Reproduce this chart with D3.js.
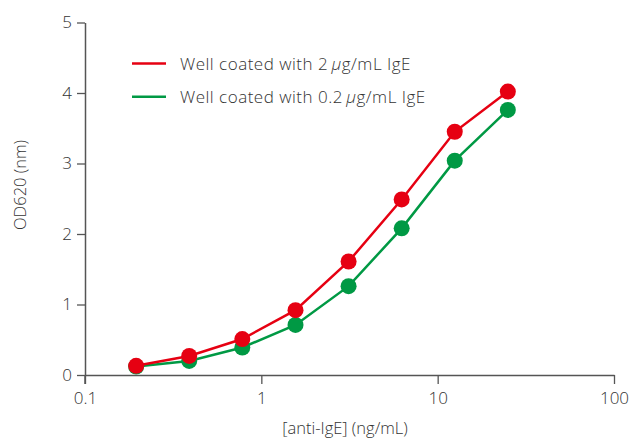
<!DOCTYPE html>
<html><head><meta charset="utf-8">
<script src="https://cdn.jsdelivr.net/npm/d3@7"></script>
<style>
body{margin:0;background:#fff;}
text{font-family:"Open Sans","Noto Sans",sans-serif;font-weight:300;fill:#333;}
</style></head>
<body><svg id="c" width="629" height="439"></svg>
<script>
const concentrations = [0.195, 0.39, 0.78, 1.5625, 3.125, 6.25, 12.5, 25];
const seriesPrefix = ["Well coated with 2\u2009", "Well coated with 0.2\u2009"];
const unitMu = "\u03BC";
const unitRest = "g/mL IgE";
const od2 = [0.13, 0.27, 0.51, 0.92, 1.61, 2.49, 3.45, 4.02];
const od02 = [0.12, 0.20, 0.39, 0.71, 1.26, 2.08, 3.04, 3.76];
const seriesColors = ["#e60012", "#009944"];
const xTicks = [0.1, 1, 10, 100];
const xTickLabels = ["0.1", "1", "10", "100"];
const yTicks = [0, 1, 2, 3, 4, 5];

const svg = d3.select("#c");
const x = d3.scaleLog().domain([0.1, 100]).range([85, 614]);
const y = d3.scaleLinear().domain([0, 5]).range([375, 22.5]);

const xAxis = svg.append("g").attr("transform", "translate(0,375)")
  .call(d3.axisBottom(x).tickValues(xTicks).tickFormat((d,i)=>xTickLabels[i]).tickSize(9).tickPadding(8).tickSizeOuter(0));
const yAxis = svg.append("g").attr("transform", "translate(85,0)")
  .call(d3.axisLeft(y).tickValues(yTicks).tickFormat(d3.format("d")).tickSize(8).tickPadding(5).tickSizeOuter(0));
[xAxis, yAxis].forEach(g => {
  g.select(".domain").attr("stroke", "#555").attr("stroke-width", 1.5);
  g.selectAll(".tick line").attr("stroke", "#555").attr("stroke-width", 1.3);
  g.selectAll(".tick text").attr("font-size", 17).style("fill", "#333");
});
svg.append("line").attr("x1", 85).attr("x2", 85).attr("y1", 375).attr("y2", 384)
  .attr("stroke", "#555").attr("stroke-width", 1.5);

svg.append("text").attr("x", 345).attr("y", 434).attr("text-anchor", "middle")
  .attr("font-size", 16.5).text("[anti-IgE] (ng/mL)");
svg.append("text").attr("transform", "translate(26,185) rotate(-90)").attr("text-anchor", "middle")
  .attr("font-size", 16.5).text("OD620 (nm)");

const series = [od2, od02];
const line = d3.line().x((d,i)=>x(concentrations[i])).y(d=>y(d));
[1, 0].forEach(s => {
  svg.append("path").datum(series[s]).attr("d", line).attr("fill", "none")
    .attr("stroke", seriesColors[s]).attr("stroke-width", 2.5);
  svg.append("g").selectAll("circle").data(series[s]).join("circle")
    .attr("cx", (d,i)=>x(concentrations[i])).attr("cy", d=>y(d)).attr("r", 8)
    .attr("fill", seriesColors[s]);
});

const leg = svg.append("g");
seriesPrefix.forEach((name, i) => {
  const yy = 63.5 + i * 33.3;
  leg.append("line").attr("x1", 132).attr("x2", 166).attr("y1", yy).attr("y2", yy)
    .attr("stroke", seriesColors[i]).attr("stroke-width", 2.5);
  const t = leg.append("text").attr("x", 180).attr("y", yy + 6).attr("font-size", 17)
    .attr("letter-spacing", 0.5);
  t.append("tspan").text(name);
  t.append("tspan").attr("font-style", "italic").text(unitMu);
  t.append("tspan").text(unitRest);
});
</script></body></html>
